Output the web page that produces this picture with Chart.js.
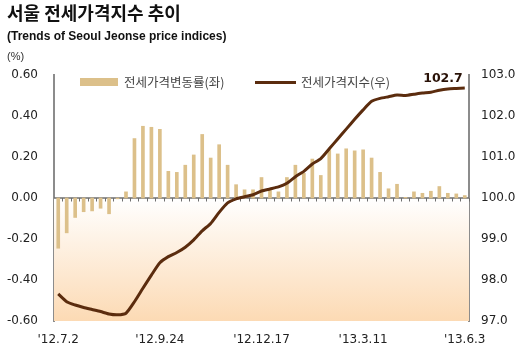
<!DOCTYPE html>
<html>
<head>
<meta charset="utf-8">
<script src="https://cdn.jsdelivr.net/npm/chart.js@4"></script>
<style>
  html, body { margin: 0; padding: 0; background: #fff; }
  #wrap { position: relative; width: 520px; height: 353px; overflow: hidden; }
  #chart { position: absolute; left: 0; top: 0; }
  .txt { position: absolute; white-space: nowrap; color: #111; }
  #title { left: 7px; top: -1px; font: bold 18px "Noto Sans CJK KR", sans-serif; }
  #sub { left: 7px; top: 29px; font: bold 12px "Liberation Sans", Arial, sans-serif; }
  #unit { left: 7px; top: 50px; font: 11px "Liberation Sans", Arial, sans-serif; color: #333; }
  .lg { font: 12.5px "Noto Sans CJK KR", sans-serif; color: #444; top: 72px; }
  .sw { position: absolute; }
</style>
</head>
<body>
<div id="wrap">
  <canvas id="chart" width="520" height="353"></canvas>
  <div class="txt" id="title">서울 전세가격지수 추이</div>
  <div class="txt" id="sub">(Trends of Seoul Jeonse price indices)</div>
  <div class="txt" id="unit">(%)</div>
  <div class="sw" style="left:80px;top:78px;width:38px;height:8px;background:#dcc08a;"></div>
  <div class="txt lg" style="left:124px;">전세가격변동률(좌)</div>
  <div class="sw" style="left:255px;top:81px;width:41px;height:3px;background:#5b2c0e;"></div>
  <div class="txt lg" style="left:301px;">전세가격지수(우)</div>
</div>
<script>
'use strict';

//===== data =====//
var weeks = ["'12.7.2","'12.7.9","'12.7.16","'12.7.23","'12.7.30","'12.8.6","'12.8.13","'12.8.20","'12.8.27",
  "'12.9.3","'12.9.10","'12.9.17","'12.9.24","'12.10.1","'12.10.8","'12.10.15","'12.10.22","'12.10.29",
  "'12.11.5","'12.11.12","'12.11.19","'12.11.26","'12.12.3","'12.12.10","'12.12.17","'12.12.24","'12.12.31",
  "'13.1.7","'13.1.14","'13.1.21","'13.1.28","'13.2.4","'13.2.11","'13.2.18","'13.2.25","'13.3.4","'13.3.11",
  "'13.3.18","'13.3.25","'13.4.1","'13.4.8","'13.4.15","'13.4.22","'13.4.29","'13.5.6","'13.5.13","'13.5.20",
  "'13.5.27","'13.6.3"];

var shownWeeks = ["'12.7.2", "'12.9.24", "'12.12.17", "'13.3.11", "'13.6.3"];

// weekly change (%), left axis
var changeRate = [-0.245, -0.17, -0.095, -0.067, -0.063, -0.05, -0.077, -0.004, 0.03,
  0.29, 0.35, 0.345, 0.335, 0.13, 0.125, 0.16, 0.21, 0.31,
  0.195, 0.26, 0.16, 0.065, 0.04, 0.04, 0.1, 0.037, 0.03,
  0.1, 0.16, 0.12, 0.19, 0.11, 0.235, 0.215, 0.24, 0.23, 0.235,
  0.195, 0.125, 0.045, 0.067, 0.003, 0.03, 0.023, 0.033, 0.056, 0.023,
  0.02, 0.012];

// price index, right axis
var priceIndex = [97.66, 97.47, 97.39, 97.33, 97.28, 97.23, 97.17, 97.15, 97.19,
  97.47, 97.80, 98.12, 98.42, 98.57, 98.67, 98.80, 98.98, 99.20,
  99.38, 99.65, 99.88, 99.98, 100.03, 100.08, 100.17, 100.22, 100.27,
  100.36, 100.52, 100.65, 100.83, 100.96, 101.20, 101.44, 101.68, 101.92, 102.15,
  102.36, 102.43, 102.47, 102.51, 102.50, 102.53, 102.56, 102.58, 102.63, 102.66,
  102.67, 102.68];

var leftTicks = [-0.6, 0.6, 0.2];   // min, max, step
var rightTicks = [97, 103, 1];
var lastLabel = '102.7';

//===== plugins =====//
var backdrop = {
  id: 'backdrop',
  beforeDatasetsDraw: function(chart) {
    var c = chart.ctx, a = chart.chartArea;
    var y0 = chart.scales.y.getPixelForValue(0);
    var g = c.createLinearGradient(0, y0, 0, a.bottom);
    g.addColorStop(0, '#ffffff');
    g.addColorStop(1, '#fcdab4');
    c.save();
    c.fillStyle = g;
    c.fillRect(a.left, y0, a.right - a.left, a.bottom - y0);
    // zero line + little ticks
    c.strokeStyle = '#6e6e6e';
    c.lineWidth = 1.5;
    c.beginPath();
    c.moveTo(a.left, y0);
    c.lineTo(a.right, y0);
    c.stroke();
    c.lineWidth = 1;
    var xs = chart.scales.x;
    for (var i = 0; i < weeks.length; i++) {
      var px = Math.round(xs.getPixelForValue(i) + 4) + 0.5;
      c.beginPath();
      c.moveTo(px, y0);
      c.lineTo(px, y0 + 3.5);
      c.stroke();
    }
    c.restore();
  }
};

var endLabel = {
  id: 'endLabel',
  afterDatasetsDraw: function(chart) {
    var meta = chart.getDatasetMeta(1);
    var pt = meta.data[meta.data.length - 1];
    var c = chart.ctx;
    c.save();
    c.font = 'bold 12.5px "DejaVu Sans", sans-serif';
    c.fillStyle = '#2a1208';
    c.textAlign = 'right';
    c.textBaseline = 'middle';
    c.fillText(lastLabel, pt.x - 2, pt.y - 9);
    c.restore();
  }
};

var ctx = document.getElementById('chart').getContext('2d');
var chart = new Chart(ctx, {
  data: {
    labels: weeks,
    datasets: [{
      type: 'bar',
      label: '전세가격변동률(좌)',
      data: changeRate,
      yAxisID: 'y',
      backgroundColor: '#dcc08a',
      barThickness: 3,
      order: 2
    }, {
      type: 'line',
      label: '전세가격지수(우)',
      data: priceIndex,
      yAxisID: 'y1',
      borderColor: '#5b2c0e',
      borderWidth: 3,
      pointRadius: 0,
      tension: 0.2,
      order: 1
    }]
  },
  plugins: [backdrop, endLabel],
  options: {
    responsive: false,
    animation: false,
    layout: { padding: { top: 75, left: 0, right: 0, bottom: 0 } },
    plugins: { legend: { display: false }, tooltip: { enabled: false } },
    scales: {
      x: {
        offset: true,
        grid: { display: false, drawTicks: false },
        border: { display: false },
        ticks: {
          autoSkip: false, maxRotation: 0, padding: 12,
          color: '#222', font: { family: 'DejaVu Sans', size: 12 },
          callback: function(v, i) { return shownWeeks.indexOf(weeks[i]) >= 0 ? weeks[i] : ''; }
        },
        afterFit: function(s) { s.height = 32; }
      },
      y: {
        position: 'left',
        min: leftTicks[0], max: leftTicks[1],
        grid: { display: false, drawTicks: false },
        border: { display: true, color: '#8c8c8c', width: 2 },
        ticks: {
          stepSize: leftTicks[2], padding: 16,
          color: '#222', font: { family: 'DejaVu Sans', size: 12 },
          callback: function(v) { return v.toFixed(2); }
        },
        afterFit: function(s) { s.width = 54; }
      },
      y1: {
        position: 'right',
        min: rightTicks[0], max: rightTicks[1],
        grid: { display: false, drawTicks: false },
        border: { display: true, color: '#8c8c8c', width: 2 },
        ticks: {
          stepSize: rightTicks[2], padding: 12,
          color: '#222', font: { family: 'DejaVu Sans', size: 12 },
          callback: function(v) { return v.toFixed(1); }
        },
        afterFit: function(s) { s.width = 51; }
      }
    }
  }
});
</script>
</body>
</html>
